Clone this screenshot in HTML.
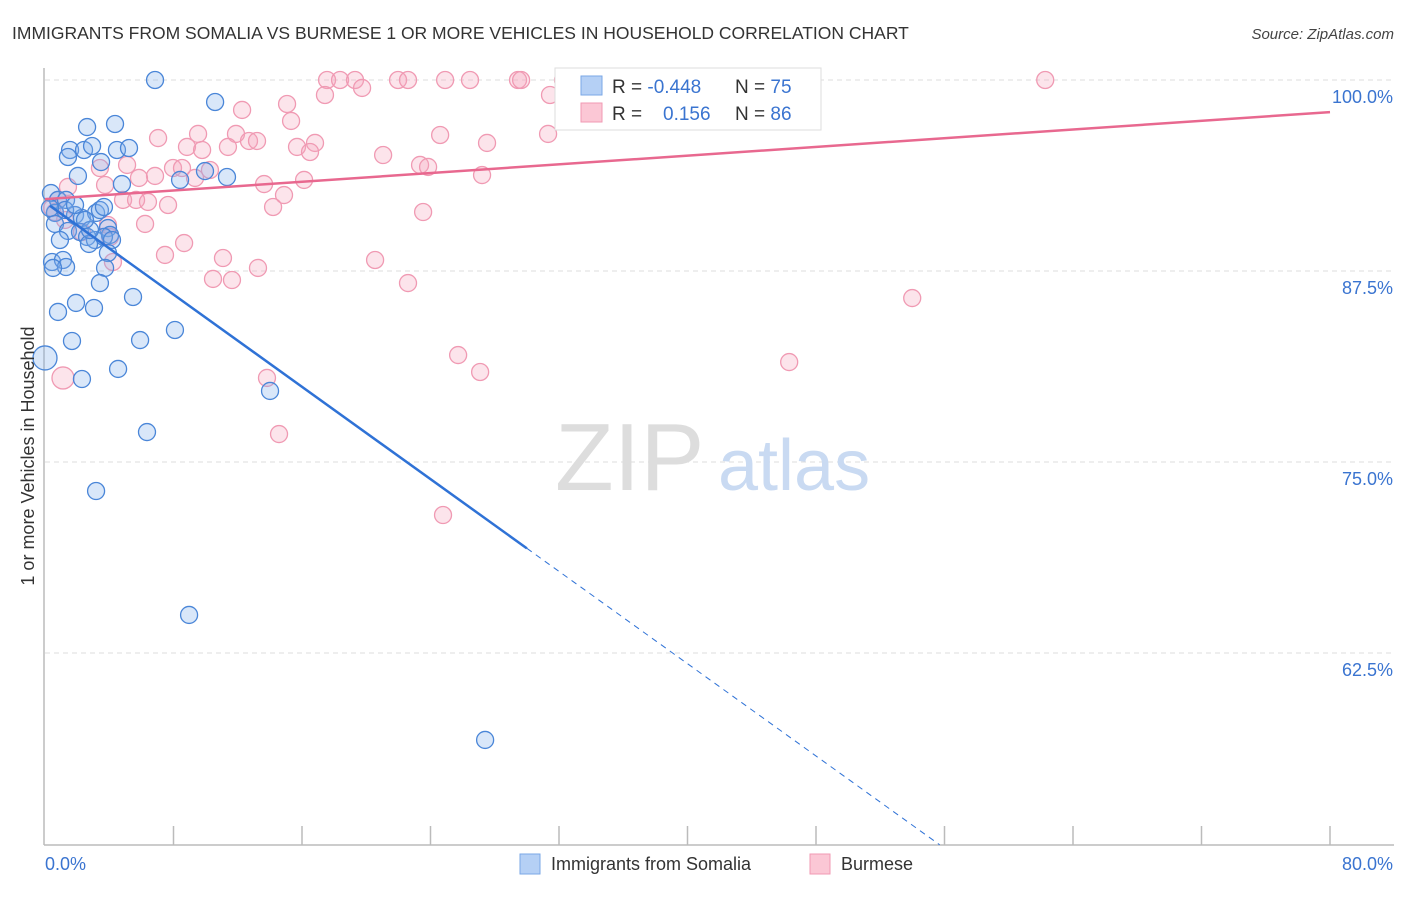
<!DOCTYPE html>
<html><head><meta charset="utf-8"><style>
body{margin:0;background:#fff;font-family:"Liberation Sans",sans-serif;}
svg text{font-family:"Liberation Sans",sans-serif;}
</style></head><body>
<svg id="chart" width="1406" height="892" viewBox="0 0 1406 892" xmlns="http://www.w3.org/2000/svg">
<text x="12" y="39" font-size="17.5" fill="#333">IMMIGRANTS FROM SOMALIA VS BURMESE 1 OR MORE VEHICLES IN HOUSEHOLD CORRELATION CHART</text>
<text x="1394" y="39" font-size="15" fill="#444" text-anchor="end" font-style="italic">Source: ZipAtlas.com</text>
<g id="grid"></g>
<text x="555" y="490" font-size="96" fill="#ddd" font-family="Liberation Serif">ZIP</text>
<text x="718" y="490" font-size="72" fill="#c9daf2">atlas</text>
<g id="axes"></g>
<g id="pts"></g>
<g id="trends"></g>
<text transform="translate(34,456) rotate(-90)" font-size="18" fill="#333" text-anchor="middle">1 or more Vehicles in Household</text>
<g>
<rect x="555" y="68" width="266" height="62" fill="#fff" stroke="#ddd"/>
<rect x="581" y="76" width="21" height="19" fill="#b5d0f5" stroke="#7aa7e6"/>
<rect x="581" y="103" width="21" height="19" fill="#fbc7d5" stroke="#f09ab3"/>
<text x="612" y="93" font-size="19" fill="#333">R = <tspan fill="#3a74d0">-0.448</tspan></text>
<text x="735" y="93" font-size="19" fill="#333">N = <tspan fill="#3a74d0">75</tspan></text>
<text x="612" y="120" font-size="19" fill="#333">R = </text>
<text x="663" y="120" font-size="19" fill="#3a74d0">0.156</text>
<text x="735" y="120" font-size="19" fill="#333">N = <tspan fill="#3a74d0">86</tspan></text>
</g>
<g>
<rect x="520" y="854" width="20" height="20" fill="#b5d0f5" stroke="#7aa7e6"/>
<text x="551" y="870" font-size="18" fill="#333">Immigrants from Somalia</text>
<rect x="810" y="854" width="20" height="20" fill="#fbc7d5" stroke="#f09ab3"/>
<text x="841" y="870" font-size="18" fill="#333">Burmese</text>
</g>
</svg>
<script>
const xTicks=[0,8,16,24,32,40,48,56,64,72,80];
const yTicks=[100,87.5,75,62.5];
const yTickLabels=["100.0%","87.5%","75.0%","62.5%"];
const xEndLabels=["0.0%","80.0%"];
const somaliaX=[6.85,10.59,4.36,2.62,1.56,2.43,1.43,2.93,4.48,5.23,3.49,2.05,4.79,8.41,9.96,11.33,0.37,0.81,1.31,0.62,1.87,2.30,3.18,3.42,3.67,0.62,1.43,2.18,2.62,3.11,3.92,4.05,3.67,0.93,2.74,4.17,0.44,1.12,1.31,3.92,3.74,0.50,3.42,5.48,1.93,3.05,0.81,8.09,5.92,1.68,0,4.55,2.30,14.01,6.35,3.18,8.97,27.40,1.25,2.80,0.31,1.87,2.49];
const somaliaY=[100,98.56,97.12,96.92,95.42,95.42,94.96,95.68,95.42,95.55,94.63,93.72,93.19,93.46,94.04,93.65,92.60,92.15,92.15,91.30,91.16,90.97,91.30,91.49,91.69,90.58,90.12,90.05,89.73,89.53,90.31,89.86,89.73,89.53,89.27,89.53,88.09,88.22,87.76,88.68,87.70,87.70,86.71,85.80,85.41,85.08,84.82,83.64,82.98,82.92,81.81,81.09,80.43,79.65,76.96,73.10,64.99,56.81,91.49,90.18,91.62,91.82,90.84];
const burmeseX=[17.56,18.37,19.30,21.98,22.60,24.91,26.46,29.45,29.64,32.25,62.27,17.43,19.74,31.44,12.27,15.07,15.32,7.04,9.53,11.89,12.70,13.20,8.84,9.78,11.39,15.69,16.81,16.50,21.05,24.60,27.52,31.32,7.97,8.53,10.27,9.34,6.85,5.85,5.11,3.42,1.43,3.74,4.86,5.67,6.41,7.66,13.64,14.88,16.13,23.35,23.85,27.21,14.20,23.54,6.23,3.92,2.30,4.05,0.62,0.81,0.44,1.25,8.66,7.47,11.08,13.26,10.46,11.64,20.55,22.60,4.23,53.99,25.72,27.09,46.33,1.12,13.82,14.57,24.78];
const burmeseY=[100,100,100,100,100,100,100,100,100,100,100,99.02,99.48,99.02,98.04,98.43,97.32,96.20,96.47,96.47,96.01,96.01,95.62,95.42,95.62,95.62,95.88,95.29,95.09,96.40,95.88,96.47,94.24,94.24,94.11,93.59,93.72,93.59,94.44,94.24,93.00,93.13,92.15,92.15,92.02,91.82,93.19,92.47,93.46,94.44,94.31,93.78,91.69,91.36,90.58,90.51,90.05,89.73,91.36,92.15,91.62,90.84,89.33,88.55,88.35,87.70,86.98,86.91,88.22,86.71,88.09,85.73,82.00,80.89,81.54,80.50,80.50,76.83,71.53];
const somaliaTrend=[92.0,-0.755];
const burmeseTrend=[92.2,97.9];
const sx=v=>45+v*(1330-45)/80;
const sy=v=>80+(100-v)*(271-80)/12.5;
const NS="http://www.w3.org/2000/svg";
function mk(t,a,p){const e=document.createElementNS(NS,t);for(const k in a)e.setAttribute(k,a[k]);p.appendChild(e);return e;}
const grid=document.getElementById('grid'),axes=document.getElementById('axes'),pts=document.getElementById('pts'),tr=document.getElementById('trends');
yTicks.forEach((v,i)=>{
 const l=mk('line',{x1:45,x2:1394,y1:sy(v),y2:sy(v),stroke:'#ddd','stroke-dasharray':'5,4'},grid);
 
 
 const t=mk('text',{x:1393,y:sy(v)+23,'font-size':18,fill:'#3a74d0','text-anchor':'end'},grid);
 t.textContent=yTickLabels[i];
 
 
});
const ax=mk('line',{x1:44,x2:1394,y1:845,y2:845,stroke:'#bbb','stroke-width':1.5},axes);


const ay=mk('line',{x1:44,x2:44,y1:68,y2:845,stroke:'#bbb','stroke-width':1.5},axes);


xTicks.forEach(v=>{if(v===0)return;
 const l=mk('line',{x1:sx(v),x2:sx(v),y1:826,y2:845,stroke:'#bbb','stroke-width':1.5},axes);
 
 
});
const xl0=mk('text',{x:45,y:870,'font-size':18,fill:'#3a74d0'},axes);xl0.textContent=xEndLabels[0];


const xl1=mk('text',{x:1393,y:870,'font-size':18,fill:'#3a74d0','text-anchor':'end'},axes);xl1.textContent=xEndLabels[1];


burmeseX.forEach((x,i)=>{
 const c=mk('circle',{cx:sx(x),cy:sy(burmeseY[i]),r:(i===75?11:8.5),fill:'rgba(246,166,190,0.3)',stroke:'#f09ab3','stroke-width':1.3},pts);
 
 
});
somaliaX.forEach((x,i)=>{
 const c=mk('circle',{cx:sx(x),cy:sy(somaliaY[i]),r:(i===50?12:8.5),fill:'rgba(130,175,235,0.3)',stroke:'#4a86d8','stroke-width':1.3},pts);
 
 
});
const pl=mk('line',{x1:sx(0),y1:sy(burmeseTrend[0]),x2:sx(80),y2:sy(burmeseTrend[1]),stroke:'#e8688f','stroke-width':2.5},tr);


const bx1=0.3,bx2=30,bx3=55.7;
const f=x=>somaliaTrend[0]+somaliaTrend[1]*x;
const bl=mk('line',{x1:sx(bx1),y1:sy(f(bx1)),x2:sx(bx2),y2:sy(f(bx2)),stroke:'#2f72d6','stroke-width':2.5},tr);


const bd=mk('line',{x1:sx(bx2),y1:sy(f(bx2)),x2:sx(bx3),y2:sy(f(bx3)),stroke:'#2f72d6','stroke-width':1,'stroke-dasharray':'6,5'},tr);


</script>
</body></html>
